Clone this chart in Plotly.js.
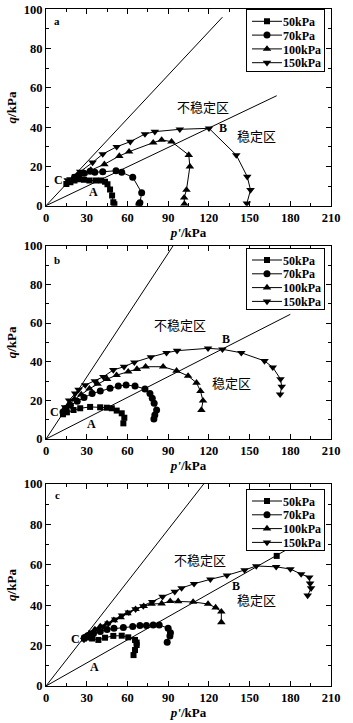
<!DOCTYPE html>
<html><head><meta charset="utf-8">
<script src="https://cdn.plot.ly/plotly-3.0.1.min.js"></script>
<style>html,body{margin:0;padding:0;background:#fff}#chart{width:353px;height:723px}</style>
</head><body><div id="chart"></div>
<script>
// ---------- data (p' , q in kPa) ----------
const seriesNames = ["50kPa", "70kPa", "100kPa", "150kPa"];
const xTicks = [0, 30, 60, 90, 120, 150, 180, 210];
const yTicks = [0, 20, 40, 60, 80, 100];

// panel a
const a50_p = [50.4, 49.6, 48.7, 47.2, 45.3, 43.5, 40.5, 36.5, 32, 28, 24.5, 21, 18, 15];
const a50_q = [0.8, 1.8, 5.2, 8.3, 10.9, 12.2, 12.8, 12.8, 12.8, 13.2, 13.5, 12.8, 12, 11];
const a70_p = [68.5, 69.2, 70.5, 63.9, 55.8, 51.6, 41.8, 36, 32.5, 28, 24, 21];
const a70_q = [0.8, 1.5, 6.6, 14.5, 17, 17.8, 17.3, 17, 17.5, 16.5, 15.5, 14.5];
const a100_p = [102, 101.8, 103.5, 106, 105.2, 92.5, 85.2, 79, 61.2, 54, 43, 33, 28, 24, 20];
const a100_q = [0.9, 4.1, 8, 19.9, 25.8, 32.6, 33.5, 32.1, 27.5, 25.3, 21.1, 18.2, 16.5, 15, 13.5];
const a150_p = [148, 150.7, 148.3, 140.2, 120.1, 98.6, 80.2, 72.9, 62.1, 52.1, 41.8, 34.3, 25.2, 22, 18, 16];
const a150_q = [1.2, 8, 14.8, 25.8, 39.4, 38.9, 37.7, 36.5, 32.6, 30, 26.3, 22, 17.3, 15, 13.5, 13];
const aLineC_p = [0, 130], aLineC_q = [0, 96];
const aLineA_p = [0, 170], aLineA_q = [0, 56];

// panel b
const b50_p = [57, 57.7, 55.8, 52.1, 48.5, 44.8, 39.9, 32.5, 25.2, 20.3, 15.4, 12.5];
const b50_q = [8.1, 11, 13.3, 14.7, 15.9, 16.2, 16.4, 16.6, 15.9, 15, 13.8, 12.8];
const b70_p = [79.5, 80.2, 81.5, 79.7, 78.3, 76.6, 72.9, 65.6, 59, 53.3, 47.2, 40, 34, 28, 23, 18, 14.5, 12.5];
const b70_q = [10.3, 12.4, 15, 18.5, 21.1, 23.6, 25.9, 27.4, 27.9, 27.4, 26.2, 24.8, 23.5, 21.5, 19.5, 17.5, 15.5, 14];
const b100_p = [114.5, 115.7, 113.8, 110.9, 104.7, 96.2, 86.3, 73.4, 67, 60.6, 52, 45, 38, 32, 26, 21, 17, 13.5];
const b100_q = [15, 19.8, 24.8, 29.1, 32.6, 35.3, 37.4, 37.4, 36.2, 34.8, 33, 31, 28.5, 26, 23, 20.5, 18, 15.5];
const b150_p = [172.5, 173.7, 172.8, 167.1, 161, 143.9, 130, 119.4, 96.6, 88.8, 77.3, 65.1, 57.5, 49.6, 42.3, 36, 28.9, 24, 21.5, 17, 14];
const b150_q = [23.1, 27.1, 31, 37.1, 40.4, 44.6, 46.4, 46.9, 45.7, 44.6, 42.4, 39.7, 37.4, 35.7, 32.2, 30, 27.9, 25.5, 23.6, 20, 16.5];
const bLineC_p = [0, 93.7], bLineC_q = [0, 100];
const bLineA_p = [0, 180], bLineA_q = [0, 64.5];

// panel c
const c50_p = [64.5, 65.6, 66.8, 66.8, 65.6, 60.6, 55.8, 49.6, 43.5, 38.6, 34, 30.5, 28];
const c50_q = [15.3, 17.8, 20.3, 21.5, 22.8, 24.1, 24.9, 24.8, 23.9, 22.8, 23.5, 24, 23.5];
const c70_p = [89.3, 91.3, 91.7, 90, 83.4, 79, 74, 69.2, 63.9, 57, 50.1, 45, 40, 35, 31, 28.5];
const c70_q = [21.6, 24.8, 26.4, 28.6, 30.2, 30.2, 30, 29.9, 29.4, 28.9, 28.6, 28, 27, 26, 25, 24];
const c100_p = [129.2, 129.2, 125, 119.4, 108.4, 97.4, 91.5, 85.2, 77.8, 72, 66, 60, 55, 50, 45, 40, 36, 32, 29];
const c100_q = [31.5, 36.8, 38.8, 40.6, 41.6, 41.9, 42, 40.8, 40.6, 39.5, 38, 36, 34, 32.5, 31, 29.5, 28, 26, 24.5];
const c150_p = [192.8, 195.3, 194.6, 194, 188, 180.1, 169.6, 154.9, 146.3, 133.3, 121.1, 109.1, 99.9, 94.9, 85.9, 78.3, 71.7, 66, 61, 56, 51, 46, 42, 38, 34, 30, 28];
const c150_q = [44.8, 48.4, 50.8, 53.8, 55.4, 57.9, 59, 59.4, 57.4, 54.8, 52.8, 50.6, 48.5, 46.7, 44.2, 41.7, 39.6, 38, 36.5, 35, 33, 31, 29.5, 28, 26.5, 24.5, 23];
const cLineC_p = [0, 116.2], cLineC_q = [0, 100];
const cLineA_p = [0, 180], cLineA_q = [0, 68.5];
const cStray_p = [170], cStray_q = [64.4];

// ---------- build ----------
const symbols = ["square", "circle", "triangle-up", "triangle-down"];
const msizes = [6, 7, 7.5, 7.5];
const panels = [
  {ax: "", leg: "legend", s: [[a50_p,a50_q],[a70_p,a70_q],[a100_p,a100_q],[a150_p,a150_q]], lines: [[aLineC_p,aLineC_q],[aLineA_p,aLineA_q]]},
  {ax: "2", leg: "legend2", s: [[b50_p,b50_q],[b70_p,b70_q],[b100_p,b100_q],[b150_p,b150_q]], lines: [[bLineC_p,bLineC_q],[bLineA_p,bLineA_q]]},
  {ax: "3", leg: "legend3", s: [[c50_p,c50_q],[c70_p,c70_q],[c100_p,c100_q],[c150_p,c150_q]], lines: [[cLineC_p,cLineC_q],[cLineA_p,cLineA_q]]}
];
const traces = [];
panels.forEach(pn => {
  pn.lines.forEach(l => traces.push({x: l[0], y: l[1], xaxis: "x"+pn.ax, yaxis: "y"+pn.ax, mode: "lines",
    line: {color: "#000", width: 1}, showlegend: false, hoverinfo: "skip"}));
  pn.s.forEach((d, i) => traces.push({x: d[0], y: d[1], xaxis: "x"+pn.ax, yaxis: "y"+pn.ax, name: seriesNames[i],
    mode: "lines+markers", line: {color: "#000", width: 1}, legend: pn.leg,
    marker: {symbol: symbols[i], size: msizes[i], color: "#000"}}));
});
traces.push({x: cStray_p, y: cStray_q, xaxis: "x3", yaxis: "y3", mode: "markers",
  marker: {symbol: "square", size: 6, color: "#000"}, showlegend: false});

const serif = "Liberation Serif, Times New Roman, serif";
const tickFont = () => ({family: serif, size: 12.5, color: "#000", weight: "bold"});
const titleFont = () => ({family: serif, size: 13, color: "#000", weight: "bold"});
const H = 723;
const doms = [[1-205.7/H, 1-9.3/H], [1-439/H, 1-245.7/H], [1-686/H, 1-484/H]];
function xa(yid){ return {domain:[0,1], anchor: yid, range:[0,210], tickvals: xTicks, ticks:"inside", ticklen:5, tickcolor:"#000",
  showline:true, linecolor:"#000", linewidth:1, mirror:"allticks", showgrid:false, zeroline:false, tickfont: tickFont(),
  minor:{dtick:15, ticks:"inside", ticklen:3, tickcolor:"#000", showgrid:false},
  title:{text:"<i>p'</i>/kPa", font: titleFont(), standoff: 2}}; }
function ya(xid, dom){ return {domain: dom, anchor: xid, range:[0,100], tickvals: yTicks, ticks:"inside", ticklen:5, tickcolor:"#000",
  showline:true, linecolor:"#000", linewidth:1, mirror:"allticks", showgrid:false, zeroline:false, tickfont: tickFont(),
  minor:{dtick:10, ticks:"inside", ticklen:3, tickcolor:"#000", showgrid:false},
  title:{text:"<i>q</i>/kPa", font: titleFont(), standoff: 4}}; }
function leg(ytop){ return {x: 0.979, y: 1-ytop/H, xanchor:"right", yanchor:"top", bgcolor:"#fff", bordercolor:"#000", borderwidth:1,
  font:{family: serif, size:12, color:"#000", weight:"bold"}, tracegroupgap:0, itemwidth:30}; }

const cjk = () => ({family: "Noto Sans CJK SC", size: 13, color: "#000000"});
const lab = () => ({family: serif, size: 12, color: "#000000", weight: "bold"});
const labS = () => ({family: serif, size: 11, color: "#000000", weight: "bold"});
const ann = [];
function A(ax, x, y, t, f){ ann.push({xref:"x"+ax, yref:"y"+ax, x:x, y:y, text:t, showarrow:false, font:f}); }
A("", 8.3, 93.9, "a", labS()); A("", 115.5, 50.6, "不稳定区", cjk()); A("", 155, 35.5, "稳定区", cjk());
A("", 130.4, 39.7, "B", lab()); A("", 35, 7.1, "A", lab()); A("", 9.3, 13.1, "C", lab());
A("2", 8.3, 92.6, "b", labS()); A("2", 98.6, 59, "不稳定区", cjk()); A("2", 136.6, 29.1, "稳定区", cjk());
A("2", 132.4, 51.7, "B", lab()); A("2", 33.8, 7.8, "A", lab()); A("2", 6.1, 13.8, "C", lab());
A("3", 8.3, 94.5, "c", labS()); A("3", 113.3, 62.7, "不稳定区", cjk()); A("3", 155.4, 42.6, "稳定区", cjk());
A("3", 139.7, 49.5, "B", lab()); A("3", 35.7, 9.6, "A", lab()); A("3", 21.5, 23.1, "C", lab());

const layout = {
  width: 353, height: 723, margin: {l: 46, r: 22, t: 0, b: 0},
  paper_bgcolor: "#fff", plot_bgcolor: "#fff", showlegend: true,
  xaxis: xa("y"), yaxis: ya("x", doms[0]),
  xaxis2: xa("y2"), yaxis2: ya("x2", doms[1]),
  xaxis3: xa("y3"), yaxis3: ya("x3", doms[2]),
  legend: leg(9.3), legend2: leg(248), legend3: leg(489),
  annotations: ann
};

// tighten the legend boxes (Plotly enforces a 19px row minimum; the figure uses ~13.8px rows)
const re = /translate\(\s*([-\d.eE]+)[ ,]+([-\d.eE]+)/;
function tightenLegend(gd, id){
  const lg = gd.querySelector("g.infolayer > g." + id);
  if (!lg) return;
  const items = Array.from(lg.querySelectorAll("g.traces"));
  const bg = lg.querySelector("rect.bg");
  if (!items.length || !bg) return;
  const curW = +bg.getAttribute("width");
  if (lg.__tight && Math.abs(curW - lg.__tight.newW) < 0.01) return;
  const m0 = (items[0].getAttribute("transform") || "").match(re);
  const gm = (lg.getAttribute("transform") || "").match(re);
  const x0 = m0 ? +m0[1] : 0, y0 = m0 ? +m0[2] : 10;
  const step = 13.8, first = y0 - 3.5;
  let maxw = 0;
  items.forEach((it, i) => {
    it.setAttribute("transform", "translate(" + x0 + "," + (first + i*step) + ")");
    const tx = it.querySelector("text");
    if (tx) { tx.setAttribute("x", 36); maxw = Math.max(maxw, tx.getComputedTextLength()); }
  });
  if (maxw < 10) maxw = 38;
  const newW = x0 + 36 + maxw + 3;
  const newH = first + 3*step + 8;
  bg.setAttribute("width", newW); bg.setAttribute("height", newH);
  if (gm) lg.setAttribute("transform", "translate(" + (+gm[1] + curW - newW) + "," + gm[2] + ")");
  lg.__tight = {newW: newW};
}
function tightenAll(){
  const gd = document.getElementById("chart");
  ["legend", "legend2", "legend3"].forEach(id => tightenLegend(gd, id));
}
Plotly.newPlot("chart", traces, layout, {displayModeBar: false, staticPlot: true}).then(gd => {
  tightenAll();
  requestAnimationFrame(tightenAll);
  setTimeout(tightenAll, 20);
  setTimeout(tightenAll, 150);
});
</script></body></html>
